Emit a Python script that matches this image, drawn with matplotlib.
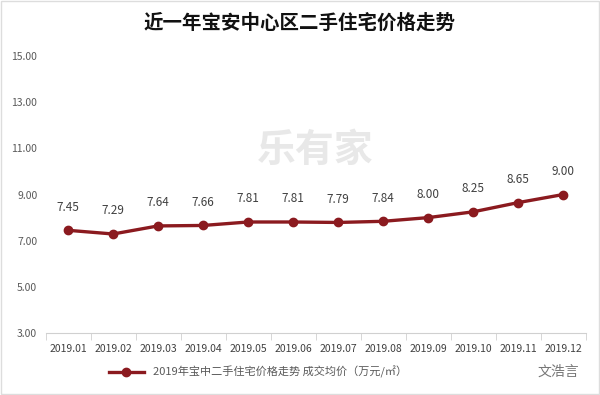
import matplotlib
matplotlib.use("Agg")
import matplotlib.pyplot as plt
import numpy as np

plt.rcParams['font.family'] = ['Noto Sans CJK SC', 'DejaVu Sans']

months = ["2019.01", "2019.02", "2019.03", "2019.04", "2019.05", "2019.06",
          "2019.07", "2019.08", "2019.09", "2019.10", "2019.11", "2019.12"]
prices = [7.45, 7.29, 7.64, 7.66, 7.81, 7.81, 7.79, 7.84, 8.00, 8.25, 8.65, 9.00]
yticks = [3, 5, 7, 9, 11, 13, 15]

fig = plt.figure(figsize=(6, 3.95), dpi=100)
ax = fig.add_axes([0.076, 0.157, 0.9, 0.701])

x = np.arange(len(months))
line_color = "#8b1a1f"
ax.plot(x, prices, color=line_color, lw=2.4, marker="o", ms=6,
        label="2019年宝中二手住宅价格走势 成交均价（万元/㎡）")

# data labels above points
for xi, v in zip(x, prices):
    ax.annotate(f"{v:.2f}", (xi, v), xytext=(0, 12), textcoords="offset points",
                ha="center", va="bottom", fontsize=8.5, color="#404040")

ax.set_xlim(-0.5, len(months) - 0.5)
ax.set_ylim(3, 15)
ax.set_yticks(yticks)
ax.set_yticklabels([f"{t:.2f}" for t in yticks], fontsize=7.5, color="#595959")
ax.set_xticks(x)
ax.set_xticklabels(months, fontsize=7.5, color="#404040")
ax.tick_params(axis="x", length=0, pad=8)
ax.tick_params(axis="y", length=0, pad=6)
# tick marks between categories
ax.set_xticks(np.arange(-0.5, len(months)), minor=True)
ax.tick_params(axis="x", which="minor", length=5, color="#d0d0d0")

for side in ["top", "right", "left"]:
    ax.spines[side].set_visible(False)
ax.spines["bottom"].set_color("#d0d0d0")

# faint watermark
ax.text(0.5, 0.66, "乐有家", transform=ax.transAxes, ha="center", va="center",
        fontsize=28, color="#e8e8e8", zorder=0, fontweight="bold")

fig.suptitle("近一年宝安中心区二手住宅价格走势", x=0.5, y=0.965, fontsize=14,
             fontweight="bold", color="#111111")

leg = fig.legend(loc="center", bbox_to_anchor=(0.43, 0.058), frameon=False,
                 fontsize=8, handlelength=3.2)
for t in leg.get_texts():
    t.set_color("#595959")

fig.text(0.93, 0.058, "文浩言", fontsize=10, color="#777777", ha="center", va="center")

fig.patches.append(plt.Rectangle((0.002, 0.002), 0.996, 0.996, transform=fig.transFigure,
                                 fill=False, edgecolor="#dddddd", lw=1))

fig.savefig("out.png", dpi=100)
